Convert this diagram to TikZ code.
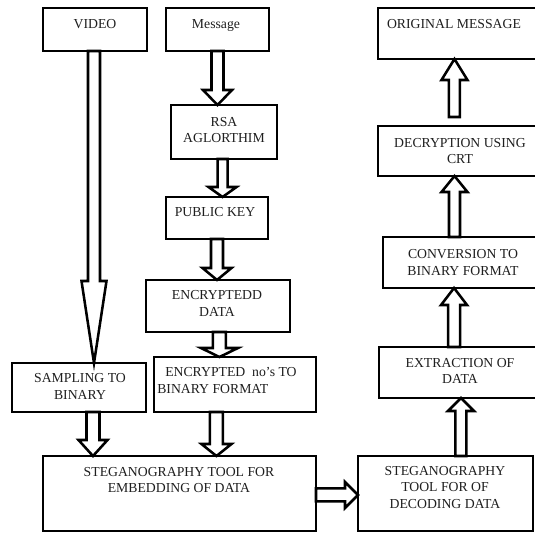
\documentclass[tikz,border=0pt]{standalone}
\usepackage{fontspec}
\setmainfont{Liberation Serif}
\usetikzlibrary{calc}
\tikzset{
  box/.style={draw=black, line width=2.2pt, rectangle, inner sep=0pt, outer sep=0pt, fill=white},
  lbl/.style={inner sep=0pt, text=black!88, font=\fontsize{10.3}{12.6}\selectfont, align=center},
  arr/.style={draw=black, line width=1.9pt, fill=white, line join=miter}
}
% box: name, x1, y1, x2, y2 (px)
\newcommand\bx[5]{\node[box, minimum width={(#4-#2)*0.75pt}, minimum height={(#5-#3)*0.75pt}] (#1) at ({(#2+#4)/2},{(#3+#5)/2}) {};}
% block arrows: from, to, shaft half width, head half width, head length (px)
\newcommand\blkdown[5]{\draw[arr] let \p1=#1, \p2=#2 in
 (\x1-#3*0.75pt,\y1) -- (\x1-#3*0.75pt,\y2+#5*0.75pt) -- (\x1-#4*0.75pt,\y2+#5*0.75pt) -- (\x1,\y2)
 -- (\x1+#4*0.75pt,\y2+#5*0.75pt) -- (\x1+#3*0.75pt,\y2+#5*0.75pt) -- (\x1+#3*0.75pt,\y1) -- cycle;}
\newcommand\blkup[5]{\draw[arr] let \p1=#1, \p2=#2 in
 (\x1-#3*0.75pt,\y1) -- (\x1-#3*0.75pt,\y2-#5*0.75pt) -- (\x1-#4*0.75pt,\y2-#5*0.75pt) -- (\x1,\y2)
 -- (\x1+#4*0.75pt,\y2-#5*0.75pt) -- (\x1+#3*0.75pt,\y2-#5*0.75pt) -- (\x1+#3*0.75pt,\y1) -- cycle;}
\newcommand\blkright[5]{\draw[arr] let \p1=#1, \p2=#2 in
 (\x1,\y1-#3*0.75pt) -- (\x2-#5*0.75pt,\y1-#3*0.75pt) -- (\x2-#5*0.75pt,\y1-#4*0.75pt) -- (\x2,\y1)
 -- (\x2-#5*0.75pt,\y1+#4*0.75pt) -- (\x2-#5*0.75pt,\y1+#3*0.75pt) -- (\x1,\y1+#3*0.75pt) -- cycle;}
\begin{document}
\begin{tikzpicture}[x=0.75pt,y=-0.75pt]
\useasboundingbox (0,0) rectangle (535,533);
\fill[white] (0,0) rectangle (535,533);
\clip (0,0) rectangle (535,533);
% boxes
\bx{video}{43}{8}{147}{51}
\bx{msg}{166}{8}{269}{51}
\bx{rsa}{171}{105}{277}{159}
\bx{pub}{166}{197}{268}{239}
\bx{encd}{146}{280}{290}{332}
\bx{encno}{154}{357}{316}{412}
\bx{samp}{12}{363}{146}{412}
\bx{steg}{43}{456}{316}{531}
\bx{dec}{358}{456}{533}{531}
\bx{extr}{379}{347}{548}{398}
\bx{conv}{383}{237}{548}{288}
\bx{decr}{378}{126}{548}{176}
\bx{orig}{378}{8}{548}{59}
% texts
\node[lbl] (tvideo) at (95,24) {VIDEO};
\node[lbl] (tmsg) at (216,25) {Message};
\node[lbl] (trsa) at (224,130) {RSA\\AGLORTHIM};
\node[lbl] (tpub) at (215,212) {PUBLIC KEY};
\node[lbl] (tencd) at (217,303.5) {ENCRYPTEDD\\DATA};
\node[lbl, align=left, anchor=west] (tencno) at (157,380.5) {\hspace*{6pt}ENCRYPTED\ \ no’s TO\\BINARY FORMAT};
\node[lbl] (tsamp) at (80,386.5) {SAMPLING TO\\BINARY};
\node[lbl] (tsteg) at (179,480) {STEGANOGRAPHY TOOL FOR\\EMBEDDING OF DATA};
\node[lbl] (tdec) at (445,487.5) {STEGANOGRAPHY\\TOOL FOR OF\\DECODING DATA};
\node[lbl] (textr) at (460,371) {EXTRACTION OF\\DATA};
\node[lbl] (tconv) at (463,262.5) {CONVERSION TO\\BINARY FORMAT};
\node[lbl] (tdecr) at (460,151) {DECRYPTION USING\\CRT};
\node[lbl] (torig) at (454,24) {ORIGINAL MESSAGE};
% arrows
\blkdown{([xshift=-0.75pt]video.south)}{(samp.north)}{6}{12.5}{82}
\blkdown{(msg.south)}{(rsa.north)}{6}{14.5}{15}
\blkdown{([xshift=-1.1pt]rsa.south)}{(pub.north)}{5}{14}{10}
\blkdown{(pub.south)}{(encd.north)}{6}{14.5}{12}
\blkdown{([xshift=1.1pt]encd.south)}{(encno.north)}{6.5}{18.5}{9}
\blkdown{([xshift=-13.9pt]encno.south)}{(steg.north)}{6.5}{15}{12}
\blkdown{([xshift=10.5pt]samp.south)}{(steg.north)}{6.5}{14.5}{16}
\blkright{([yshift=-1.1pt]steg.east)}{(dec.west)}{6.5}{13}{13}
\blkup{([xshift=11.6pt]dec.north)}{(extr.south)}{5.5}{13}{13}
\blkup{([xshift=-7.1pt]extr.north)}{(conv.south)}{6}{13}{17}
\blkup{([xshift=-8.25pt]conv.north)}{(decr.south)}{5.5}{13}{16}
\blkup{([xshift=-6.4pt,yshift=6.75pt]decr.north)}{(orig.south)}{5.5}{13}{21}
\end{tikzpicture}
\end{document}
